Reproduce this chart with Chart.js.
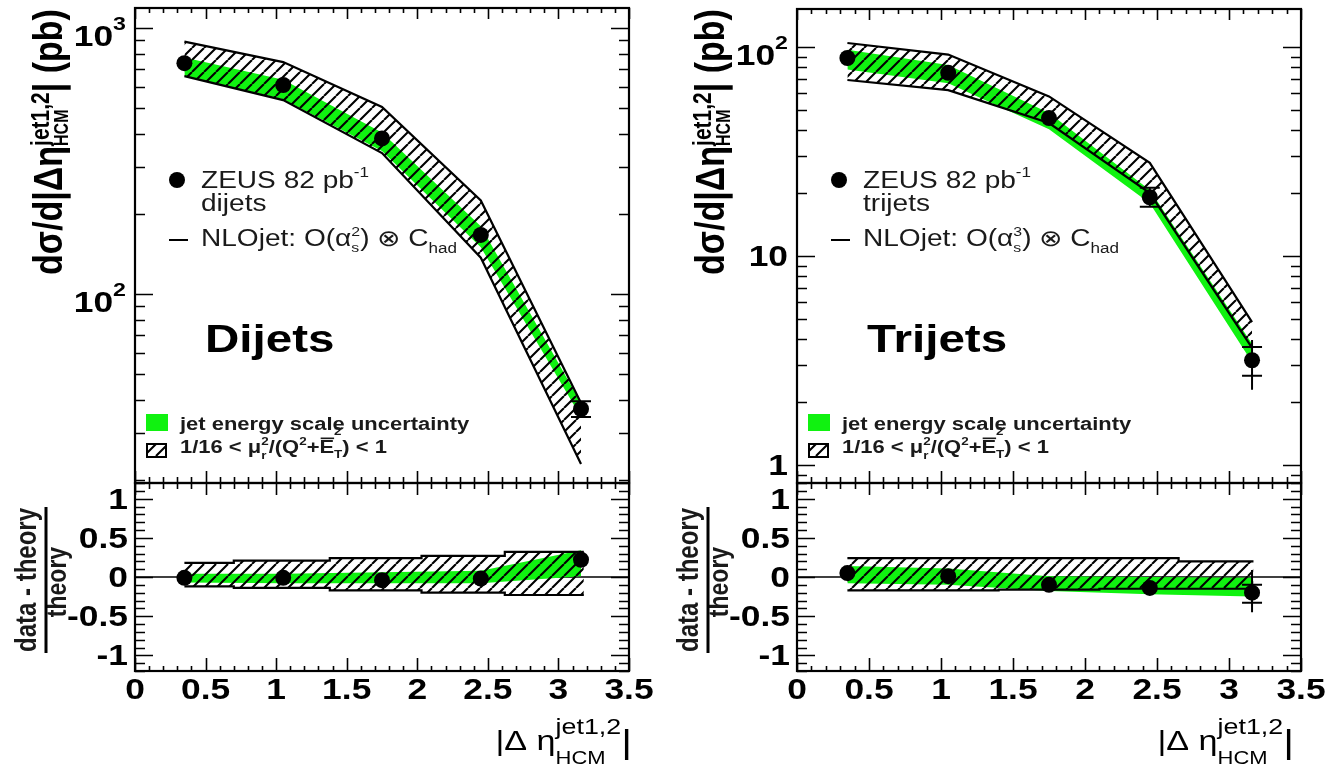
<!DOCTYPE html>
<html>
<head>
<meta charset="utf-8">
<script src="https://cdn.jsdelivr.net/npm/chart.js@4/dist/chart.umd.min.js"></script>
<style>
  html, body { margin: 0; padding: 0; background: #fff; }
  #wrap { position: relative; width: 1332px; height: 767px; overflow: hidden; background: #fff; }
  #wrap canvas { position: absolute; left: 0; top: 0; }
</style>
</head>
<body>
<div id="wrap">
  <canvas id="diTop" width="1332" height="767"></canvas>
  <canvas id="diRat" width="1332" height="767"></canvas>
  <canvas id="triTop" width="1332" height="767"></canvas>
  <canvas id="triRat" width="1332" height="767"></canvas>
</div>
<script>
// ---- |Δη| bin centres and ratio-band bin edges ----
const etaCentres = [0.35, 1.05, 1.75, 2.45, 3.16];
const diRatioEdges = [0.35, 0.70, 1.38, 2.03, 2.62, 3.18];
const triRatioEdges = [0.35, 0.70, 1.40, 2.10, 2.65, 3.17];

// ---- dijets: dσ/d|Δη| (pb) ----
const diXsec    = [738, 611, 385, 167, 37];
const diStatLo  = [null, null, null, null, 34.5];
const diStatHi  = [null, null, null, null, 39.6];
const diScaleHi = [890, 745, 505, 225, 39];
const diScaleLo = [660, 536, 339, 137, 23];
const diJesHi   = [775, 640, 405, 180, 39];
const diJesLo   = [660, 540, 345, 150, 34.5];

// ---- dijets: (data - theory)/theory ----
const diRatio        = [-0.01, -0.01, -0.04, -0.02, 0.22];
const diRatioScaleHi = [0.18, 0.21, 0.24, 0.27, 0.32];
const diRatioScaleLo = [-0.12, -0.14, -0.17, -0.20, -0.23];
const diRatioJesHi   = [0.04, 0.04, 0.06, 0.08, 0.34];
const diRatioJesLo   = [-0.07, -0.08, -0.08, -0.08, 0.01];

// ---- trijets: dσ/d|Δη| (pb) ----
const triXsec    = [88.6, 75.2, 45.7, 19.1, 3.17];
const triStatLo  = [null, null, null, 17.2, 2.67];
const triStatHi  = [null, null, null, 21.2, 3.67];
const triTotLo   = [null, null, null, null, 2.29];
const triTotHi   = [null, null, null, null, 3.96];
const triScaleHi = [104.5, 92, 58, 27.9, 4.83];
const triScaleLo = [69.5, 62.2, 43.3, 20.0, 3.63];
const triJesHi   = [97, 82, 48.3, 20.7, 3.8];
const triJesLo   = [78, 67, 40.4, 17.9, 3.1];

// ---- trijets: (data - theory)/theory ----
const triRatio        = [0.05, 0.01, -0.10, -0.14, -0.20];
const triRatioStatLo  = [null, null, null, null, -0.33];
const triRatioStatHi  = [null, null, null, null, -0.10];
const triRatioTotLo   = [null, null, null, null, -0.45];
const triRatioTotHi   = [null, null, null, null, 0.09];
const triRatioScaleHi = [0.24, 0.24, 0.24, 0.24, 0.20];
const triRatioScaleLo = [-0.17, -0.17, -0.16, -0.15, -0.15];
const triRatioJesHi   = [0.14, 0.11, 0.01, 0.00, -0.01];
const triRatioJesLo   = [-0.08, -0.10, -0.18, -0.22, -0.25];

// ---- tick labels ----
const xTickValues = [0, 0.5, 1, 1.5, 2, 2.5, 3, 3.5];
const xTickLabels = ['0', '0.5', '1', '1.5', '2', '2.5', '3', '3.5'];
const ratioTickValues = [1, 0.5, 0, -0.5, -1];
const ratioTickLabels = ['1', '0.5', '0', '-0.5', '-1'];
const diTickValues = [100, 1000];
const diTickLabels = [['10', '2'], ['10', '3']];
const triTickValues = [1, 10, 100];
const triTickLabels = [['1', ''], ['10', ''], ['10', '2']];

// ---- drawing setup ----
const W = 1332, H = 767;
const FONT = '"Liberation Sans", Arial, Helvetica, sans-serif';
const SX = 1.22;           // typeset text is set slightly wide
const GREEN = '#10f210';
const PANEL_DX = 662;      // offset of the trijet panel

const hatchTile = (() => {
  const s = 12;
  const c = document.createElement('canvas');
  c.width = s; c.height = s;
  const g = c.getContext('2d');
  g.strokeStyle = '#000'; g.lineWidth = 2.1;
  g.beginPath();
  for (let k = -1; k <= 1; k++) { g.moveTo(k * s, s); g.lineTo(k * s + s, 0); }
  g.stroke();
  return c;
})();

function pts(xs, ys) { return xs.map((x, i) => ({ x, y: ys[i] })); }
function stepPts(edges, ys) {
  const out = edges.slice(0, -1).map((x, i) => ({ x, y: ys[i] }));
  out.push({ x: edges[edges.length - 1], y: ys[ys.length - 1] });
  return out;
}

// ---- rich text (super/subscripts, stacked indices) ----
function runFont(r) { return (r.b ? 'bold ' : '') + r.s + 'px ' + FONT; }
function measureRuns(ctx, runs) {
  let w = 0;
  for (const r of runs) {
    const items = r.stack || [r];
    let m = 0;
    for (const q of items) { ctx.font = runFont(q); m = Math.max(m, ctx.measureText(q.t).width); }
    w += m;
  }
  return w;
}
function drawRuns(ctx, runs, x, y) {
  for (const r of runs) {
    const items = r.stack || [r];
    let m = 0;
    for (const q of items) {
      ctx.font = runFont(q);
      const w = ctx.measureText(q.t).width;
      ctx.fillText(q.t, x, y + (q.dy || 0));
      if (q.over) ctx.fillRect(x + 1, y + (q.dy || 0) - q.s * 0.86, w - 1, 1.6);
      m = Math.max(m, w);
    }
    x += m;
  }
}
function textAt(ctx, runs, x, y, opt) {
  opt = opt || {};
  ctx.save();
  ctx.translate(x, y);
  if (opt.rot) { ctx.rotate(-Math.PI / 2); ctx.scale(1, SX); } else { ctx.scale(SX, 1); }
  ctx.textAlign = 'left'; ctx.textBaseline = 'alphabetic';
  ctx.fillStyle = opt.color || '#000';
  const w = measureRuns(ctx, runs);
  const x0 = opt.align === 'center' ? -w / 2 : (opt.align === 'right' ? -w : 0);
  drawRuns(ctx, runs, x0, 0);
  ctx.restore();
}

// ---- frame, inward ticks and tick labels ----
const framePlugin = {
  id: 'frame',
  afterDraw(chart, args, o) {
    const ctx = chart.ctx, a = chart.chartArea, xs = chart.scales.x, ys = chart.scales.y;
    ctx.save();
    ctx.strokeStyle = '#000';
    ctx.lineWidth = 1.6;
    ctx.beginPath();
    for (let k = 0; k <= 35; k++) {
      const px = Math.round(xs.getPixelForValue(k / 10)) + 0.5;
      const major = k % 5 === 0;
      ctx.moveTo(px, a.top); ctx.lineTo(px, a.top + (major ? o.xTop[0] : o.xTop[1]));
      ctx.moveTo(px, a.bottom); ctx.lineTo(px, a.bottom - (major ? o.xBot[0] : o.xBot[1]));
    }
    const yt = [];
    if (o.log) {
      for (let e = -1; e <= 4; e++) for (let m = 1; m <= 9; m++) {
        const v = m * Math.pow(10, e);
        if (v >= ys.min && v <= ys.max) yt.push([v, m === 1]);
      }
    } else {
      for (let k = -12; k <= 12; k++) yt.push([k / 10, k % 5 === 0]);
    }
    for (const [v, major] of yt) {
      const py = Math.round(ys.getPixelForValue(v)) + 0.5;
      const l = major ? 18 : 10;
      ctx.moveTo(a.left, py); ctx.lineTo(a.left + l, py);
      ctx.moveTo(a.right, py); ctx.lineTo(a.right - l, py);
    }
    ctx.stroke();
    ctx.lineWidth = 2.2;
    ctx.strokeRect(a.left, a.top, a.right - a.left, a.bottom - a.top);

    // y tick labels
    o.yValues.forEach((v, i) => {
      const py = ys.getPixelForValue(v);
      const lab = o.yLabels[i];
      if (Array.isArray(lab)) {
        if (lab[1]) {
          textAt(ctx, [{ t: lab[0], s: 29, b: 1 }, { t: lab[1], s: 19, b: 1, dy: -16 }], a.left - 9, py + 18, { align: 'right' });
        } else {
          textAt(ctx, [{ t: lab[0], s: 29, b: 1 }], a.left - 9, py + 10, { align: 'right' });
        }
      } else {
        textAt(ctx, [{ t: lab, s: 29, b: 1 }], a.left - 7, py + 10, { align: 'right' });
      }
    });
    // x tick labels
    if (o.xLabels) {
      xTickValues.forEach((v, i) => {
        textAt(ctx, [{ t: xTickLabels[i], s: 29, b: 1 }], xs.getPixelForValue(v), 699, { align: 'center' });
      });
    }
    if (o.deco) o.deco(ctx, chart);
    ctx.restore();
  }
};

// ---- error bars drawn through the scales ----
const errPlugin = {
  id: 'errbars',
  afterDatasetsDraw(chart, args, o) {
    if (!o || !o.x) return;
    const ctx = chart.ctx, xs = chart.scales.x, ys = chart.scales.y;
    ctx.save();
    ctx.strokeStyle = '#000'; ctx.lineWidth = 2;
    o.x.forEach((x, i) => {
      const px = xs.getPixelForValue(x);
      const lo = (o.totLo && o.totLo[i] != null) ? o.totLo[i] : o.statLo[i];
      const hi = (o.totHi && o.totHi[i] != null) ? o.totHi[i] : o.statHi[i];
      if (lo == null || hi == null) return;
      ctx.beginPath();
      ctx.moveTo(px, ys.getPixelForValue(lo)); ctx.lineTo(px, ys.getPixelForValue(hi));
      if (o.statLo[i] != null) {
        const y1 = ys.getPixelForValue(o.statLo[i]), y2 = ys.getPixelForValue(o.statHi[i]);
        ctx.moveTo(px - 10, y1); ctx.lineTo(px + 10, y1);
        ctx.moveTo(px - 10, y2); ctx.lineTo(px + 10, y2);
      }
      ctx.stroke();
    });
    ctx.restore();
  }
};

function markerSet(xs, ys) {
  return { data: pts(xs, ys), showLine: false, pointRadius: 8, pointHoverRadius: 8,
           pointBackgroundColor: '#000', pointBorderColor: '#000', pointBorderWidth: 0, order: 0 };
}
function bandSets(upper, lower, fillStyle, outlined, stepped) {
  const line = outlined ? '#000' : 'rgba(0,0,0,0)';
  const bw = outlined ? 2.2 : 1;
  return [
    { data: upper, fill: '+1', backgroundColor: fillStyle, borderColor: line, borderWidth: bw,
      pointRadius: 0, stepped: stepped, order: outlined ? 1 : 2 },
    { data: lower, fill: false, borderColor: line, borderWidth: bw,
      pointRadius: 0, stepped: stepped, order: outlined ? 1 : 2 }
  ];
}

function makeChart(id, area, yScale, datasets, frame, errbars) {
  return new Chart(document.getElementById(id), {
    type: 'line',
    data: { datasets },
    options: {
      responsive: false, animation: false, devicePixelRatio: 1, events: [],
      layout: { padding: { left: area.l, top: area.t, right: W - area.r, bottom: H - area.b } },
      scales: {
        x: { type: 'linear', min: 0, max: 3.5, bounds: 'data', display: false },
        y: Object.assign({ display: false, bounds: 'data' }, yScale)
      },
      elements: { line: { tension: 0 } },
      plugins: { legend: { display: false }, tooltip: { enabled: false }, frame, errbars: errbars || {} }
    },
    plugins: [framePlugin, errPlugin]
  });
}

// ---- panel texts ----
function upperTexts(dx, name, order, label) {
  return function (ctx) {
    // y axis title
    textAt(ctx, [
      { t: 'dσ/d|Δη', s: 34, b: 1 },
      { stack: [{ t: 'jet1,2', s: 21, b: 1, dy: -11 }, { t: 'HCM', s: 16, b: 1, dy: 5 }] },
      { t: '| (pb)', s: 34, b: 1 }
    ], 62 + dx, 142, { rot: true, align: 'center' });
    // data / theory legend
    ctx.fillStyle = '#000';
    ctx.beginPath(); ctx.arc(177 + dx, 180, 8, 0, Math.PI * 2); ctx.fill();
    textAt(ctx, [{ t: 'ZEUS 82 pb', s: 23 }, { t: '-1', s: 14, dy: -11 }], 201 + dx, 188, { color: '#1a1a1a' });
    textAt(ctx, [{ t: name, s: 23 }], 201 + dx, 211, { color: '#1a1a1a' });
    ctx.strokeStyle = '#000'; ctx.lineWidth = 2;
    ctx.beginPath(); ctx.moveTo(169 + dx, 240); ctx.lineTo(188 + dx, 240); ctx.stroke();
    textAt(ctx, [
      { t: 'NLOjet: O(α', s: 23 },
      { stack: [{ t: order, s: 13, dy: -10 }, { t: 's', s: 13, dy: 6 }] },
      { t: ') ⊗ C', s: 23 },
      { t: 'had', s: 14, dy: 7 }
    ], 201 + dx, 246, { color: '#1a1a1a' });
    // band legend
    ctx.fillStyle = GREEN; ctx.fillRect(146 + dx, 414, 22, 17);
    textAt(ctx, [{ t: 'jet energy scale uncertainty', s: 18, b: 1 }], 180 + dx, 430, { color: '#1a1a1a' });
    ctx.fillStyle = ctx.createPattern(hatchTile, 'repeat');
    ctx.fillRect(147 + dx, 444, 19, 13);
    ctx.strokeStyle = '#000'; ctx.lineWidth = 2; ctx.strokeRect(147 + dx, 444, 19, 13);
    textAt(ctx, [
      { t: '1/16 < μ', s: 18, b: 1 },
      { stack: [{ t: '2', s: 11, b: 1, dy: -8 }, { t: 'r', s: 11, b: 1, dy: 6 }] },
      { t: '/(Q', s: 18, b: 1 },
      { t: '2', s: 11, b: 1, dy: -8 },
      { t: '+', s: 18, b: 1 },
      { t: 'E', s: 18, b: 1, over: true },
      { stack: [{ t: '2', s: 11, b: 1, dy: -18 }, { t: 'T', s: 11, b: 1, dy: 5 }] },
      { t: ') < 1', s: 18, b: 1 }
    ], 180 + dx, 453, { color: '#1a1a1a' });
    // panel label
    textAt(ctx, [{ t: label, s: 39, b: 1 }], 205 + dx, 352);
  };
}
function ratioTexts(dx) {
  return function (ctx) {
    textAt(ctx, [{ t: 'data - theory', s: 24, b: 1 }], 36 + dx, 580, { rot: true, align: 'center', color: '#1a1a1a' });
    textAt(ctx, [{ t: 'theory', s: 23, b: 1 }], 66 + dx, 582, { rot: true, align: 'center', color: '#1a1a1a' });
    ctx.fillStyle = '#000'; ctx.fillRect(44.5 + dx, 507, 3, 146);
    textAt(ctx, [
      { t: '|Δ η', s: 28 },
      { stack: [{ t: 'jet1,2', s: 22, dy: -16 }, { t: 'HCM', s: 18, dy: 14 }] },
      { t: '|', s: 34, dy: 3 }
    ], 632 + dx, 750, { align: 'right' });
  };
}

const hatchOf = id => document.getElementById(id).getContext('2d').createPattern(hatchTile, 'repeat');
const zeroLine = () => ({ data: [{ x: 0, y: 0 }, { x: 3.5, y: 0 }], borderColor: '#000', borderWidth: 1.5, pointRadius: 0, fill: false, order: 3 });

// ---- dijets ----
makeChart('diTop', { l: 135, r: 629, t: 8, b: 483 },
  { type: 'logarithmic', min: 19.5, max: 1190 },
  [markerSet(etaCentres, diXsec),
   ...bandSets(pts(etaCentres, diScaleHi), pts(etaCentres, diScaleLo), hatchOf('diTop'), true, false),
   ...bandSets(pts(etaCentres, diJesHi), pts(etaCentres, diJesLo), GREEN, false, false)],
  { log: true, xTop: [11, 5], xBot: [12, 6], yValues: diTickValues, yLabels: diTickLabels, xLabels: false,
    deco: upperTexts(0, 'dijets', '2', 'Dijets') },
  { x: etaCentres, statLo: diStatLo, statHi: diStatHi });

makeChart('diRat', { l: 135, r: 629, t: 483, b: 671 },
  { type: 'linear', min: -1.2, max: 1.2 },
  [markerSet(etaCentres, diRatio),
   ...bandSets(stepPts(diRatioEdges, diRatioScaleHi), stepPts(diRatioEdges, diRatioScaleLo), hatchOf('diRat'), true, true),
   ...bandSets(pts(etaCentres, diRatioJesHi), pts(etaCentres, diRatioJesLo), GREEN, false, false),
   zeroLine()],
  { log: false, xTop: [12, 6], xBot: [13, 5], yValues: ratioTickValues, yLabels: ratioTickLabels, xLabels: true,
    deco: ratioTexts(0) });

// ---- trijets ----
makeChart('triTop', { l: 797, r: 1301, t: 9, b: 483 },
  { type: 'logarithmic', min: 0.82, max: 152 },
  [markerSet(etaCentres, triXsec),
   ...bandSets(pts(etaCentres, triScaleHi), pts(etaCentres, triScaleLo), hatchOf('triTop'), true, false),
   ...bandSets(pts(etaCentres, triJesHi), pts(etaCentres, triJesLo), GREEN, false, false)],
  { log: true, xTop: [11, 5], xBot: [12, 6], yValues: triTickValues, yLabels: triTickLabels, xLabels: false,
    deco: upperTexts(PANEL_DX, 'trijets', '3', 'Trijets') },
  { x: etaCentres, statLo: triStatLo, statHi: triStatHi, totLo: triTotLo, totHi: triTotHi });

makeChart('triRat', { l: 797, r: 1301, t: 483, b: 671 },
  { type: 'linear', min: -1.2, max: 1.2 },
  [markerSet(etaCentres, triRatio),
   ...bandSets(stepPts(triRatioEdges, triRatioScaleHi), stepPts(triRatioEdges, triRatioScaleLo), hatchOf('triRat'), true, true),
   ...bandSets(pts(etaCentres, triRatioJesHi), pts(etaCentres, triRatioJesLo), GREEN, false, false),
   zeroLine()],
  { log: false, xTop: [12, 6], xBot: [13, 5], yValues: ratioTickValues, yLabels: ratioTickLabels, xLabels: true,
    deco: ratioTexts(PANEL_DX) },
  { x: etaCentres, statLo: triRatioStatLo, statHi: triRatioStatHi, totLo: triRatioTotLo, totHi: triRatioTotHi });
</script>
</body>
</html>
